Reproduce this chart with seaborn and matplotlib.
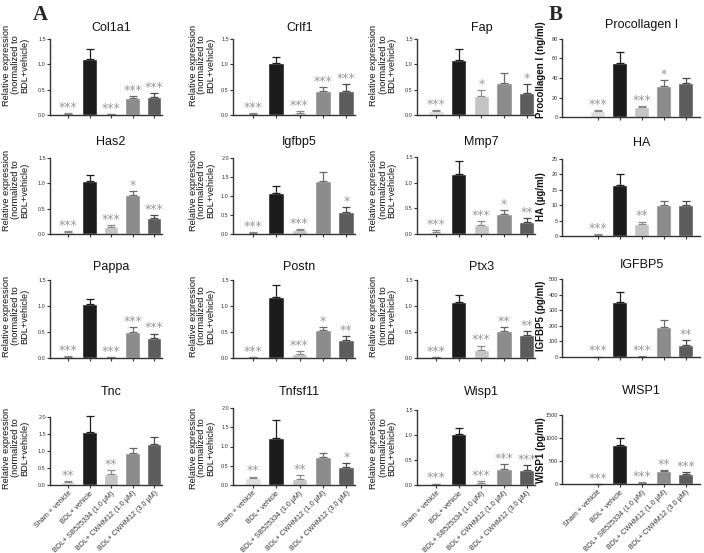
import pandas as pd
import seaborn as sns
import matplotlib.pyplot as plt
from matplotlib.transforms import blended_transform_factory

sns.set_style("ticks")
plt.rcParams["font.family"] = ["Liberation Sans", "DejaVu Sans"]

# -----------------------------
# Data
# -----------------------------

groups = ["Sham + vehicle", "BDL+ vehicle", "BDL+ SB525334 (1.0 \u00b5M)",
          "BDL+ CWHM12 (1.0 \u00b5M)", "BDL+ CWHM12 (3.0 \u00b5M)"]
bar_colors = ["#dedede", "#1c1c1c", "#c4c4c4", "#8c8c8c", "#5c5c5c"]
err_colors = ["#8a8a8a", "#1c1c1c", "#8a8a8a", "#6a6a6a", "#4a4a4a"]

col1a1_mean = [0.02, 1.11, 0.01, 0.34, 0.35]
col1a1_sem = [0.01, 0.19, 0.005, 0.03, 0.08]
col1a1_sig = ["***", "", "***", "***", "***"]

crlf1_mean = [0.02, 1.03, 0.04, 0.48, 0.48]
crlf1_sem = [0.01, 0.11, 0.04, 0.07, 0.14]
crlf1_sig = ["***", "", "***", "***", "***"]

fap_mean = [0.07, 1.09, 0.38, 0.64, 0.44]
fap_sem = [0.02, 0.22, 0.12, 0.18, 0.18]
fap_sig = ["***", "", "*", "", "*"]

has2_mean = [0.03, 1.04, 0.14, 0.77, 0.32]
has2_sem = [0.02, 0.12, 0.04, 0.07, 0.05]
has2_sig = ["***", "", "***", "*", "***"]

igfbp5_mean = [0.02, 1.09, 0.10, 1.40, 0.59]
igfbp5_sem = [0.03, 0.18, 0.04, 0.22, 0.12]
igfbp5_sig = ["***", "", "***", "", "*"]

mmp7_mean = [0.03, 1.16, 0.17, 0.39, 0.23]
mmp7_sem = [0.04, 0.26, 0.09, 0.07, 0.08]
mmp7_sig = ["***", "", "***", "*", "**"]

pappa_mean = [0.02, 1.03, 0.01, 0.50, 0.39]
pappa_sem = [0.01, 0.11, 0.005, 0.10, 0.08]
pappa_sig = ["***", "", "***", "***", "***"]

postn_mean = [0.01, 1.17, 0.07, 0.54, 0.34]
postn_sem = [0.005, 0.24, 0.07, 0.06, 0.08]
postn_sig = ["***", "", "***", "*", "**"]

ptx3_mean = [0.01, 1.07, 0.16, 0.52, 0.44]
ptx3_sem = [0.005, 0.15, 0.08, 0.08, 0.08]
ptx3_sig = ["***", "", "***", "**", "**"]

tnc_mean = [0.09, 1.55, 0.31, 0.95, 1.20]
tnc_sem = [0.02, 0.48, 0.14, 0.14, 0.20]
tnc_sig = ["**", "", "**", "", ""]

tnfsf11_mean = [0.17, 1.22, 0.16, 0.72, 0.48]
tnfsf11_sem = [0.05, 0.46, 0.09, 0.12, 0.10]
tnfsf11_sig = ["**", "", "**", "", "*"]

wisp1_mean = [0.02, 1.03, 0.04, 0.33, 0.30]
wisp1_sem = [0.01, 0.11, 0.04, 0.09, 0.10]
wisp1_sig = ["***", "", "***", "***", "***"]

procol_mean = [6.5, 55.0, 10.5, 32.0, 34.5]
procol_sem = [0.5, 12.0, 1.0, 6.0, 5.5]
procol_sig = ["***", "", "***", "*", ""]

ha_mean = [0.3, 16.5, 4.0, 10.0, 10.0]
ha_sem = [0.2, 3.7, 0.7, 1.5, 1.5]
ha_sig = ["***", "", "**", "", ""]

igfbp5_prot_mean = [2, 350, 3, 195, 80]
igfbp5_prot_sem = [1, 65, 1, 45, 30]
igfbp5_prot_sig = ["***", "", "***", "", "**"]

wisp1_prot_mean = [5, 840, 25, 280, 225]
wisp1_prot_sem = [3, 170, 12, 30, 35]
wisp1_prot_sig = ["***", "", "***", "**", "***"]

rel_label = "Relative expression\n(normalized to\nBDL+vehicle)"

# -----------------------------
# Layout (pixels)
# -----------------------------

W, H = 704, 553
col_x = [(50, 162), (233, 355), (417, 535), (562, 700)]
xlim_a = (-0.84, 4.37)
xlim_b = (-1.62, 4.65)
ylabel_x = [16, 202, 383, 541]

fig = plt.figure(figsize=(W / 100, H / 100), dpi=100)


def panel(col, top, bottom, title, title_y, mean, sem, sig, ylabel, label_y,
          ymax, yticks, fmt, bottom_row=False):
    x0, x1 = col_x[col]
    ax = fig.add_axes([x0 / W, 1 - bottom / H, (x1 - x0) / W, (bottom - top) / H])
    df = pd.DataFrame({"group": groups, "value": mean})
    sns.barplot(data=df, x="group", y="value", hue="group", order=groups,
                hue_order=groups, palette=bar_colors, saturation=1,
                width=0.68, legend=False, ax=ax)
    for i in range(5):
        ax.errorbar(i, mean[i], yerr=[[0], [sem[i]]], color=err_colors[i],
                    capsize=3, elinewidth=0.9, capthick=0.9, clip_on=False)
        if sig[i]:
            ax.annotate(sig[i], xy=(i, mean[i] + sem[i]), xytext=(0, 1.5),
                        textcoords="offset points", ha="center", va="baseline",
                        fontsize=9, color="#999999", family="DejaVu Sans",
                        annotation_clip=False)
    ax.set_xlim(*(xlim_b if col == 3 else xlim_a))
    ax.set_ylim(0, ymax)
    ax.set_yticks(yticks)
    ax.set_yticklabels([fmt.format(t) for t in yticks])
    ax.set_xlabel("")
    ax.set_ylabel("")
    ax.set_xticks(range(5))
    if bottom_row:
        ax.set_xticklabels(groups, rotation=45, ha="right",
                           rotation_mode="anchor", fontsize=5.2, color="#333333")
    else:
        ax.set_xticklabels([])
    ax.tick_params(axis="y", length=2, width=0.8, labelsize=4, pad=1,
                   colors="#333333")
    ax.tick_params(axis="x", length=2, width=0.8, pad=1.5, colors="#333333")
    sns.despine(ax=ax)
    for s in ["left", "bottom"]:
        ax.spines[s].set_linewidth(1.0)
        ax.spines[s].set_color("#333333")

    tr = blended_transform_factory(ax.transData, fig.transFigure)
    ax.text(2, 1 - title_y / H, title, transform=tr, ha="center", va="center",
            fontsize=9, color="#111111")
    if col == 3:
        fig.text(ylabel_x[col] / W, 1 - label_y / H, ylabel, rotation=90,
                 ha="center", va="center", fontsize=7.0, weight="bold",
                 color="#111111")
    else:
        fig.text(ylabel_x[col] / W, 1 - label_y / H, ylabel, rotation=90,
                 ha="center", va="center", multialignment="center",
                 linespacing=1.0, fontsize=6.7, color="#111111")
    return ax


t15 = [0, 0.5, 1.0, 1.5]
t20 = [0, 0.5, 1.0, 1.5, 2.0]
f1 = "{:.1f}"

# row 1
panel(0, 39, 115, "Col1a1", 28, col1a1_mean, col1a1_sem, col1a1_sig, rel_label, 65, 1.5, t15, f1)
panel(1, 39, 115, "Crlf1", 28, crlf1_mean, crlf1_sem, crlf1_sig, rel_label, 65, 1.5, t15, f1)
panel(2, 39, 115, "Fap", 28, fap_mean, fap_sem, fap_sig, rel_label, 65, 1.5, t15, f1)
panel(3, 39, 117, "Procollagen I", 25, procol_mean, procol_sem, procol_sig,
      "Procollagen I (ng/ml)", 70, 80, [0, 20, 40, 60, 80], "{:d}")

# row 2
panel(0, 158, 234, "Has2", 142, has2_mean, has2_sem, has2_sig, rel_label, 190, 1.5, t15, f1)
panel(1, 158, 234, "Igfbp5", 142, igfbp5_mean, igfbp5_sem, igfbp5_sig, rel_label, 190, 2.0, t20, f1)
panel(2, 157, 234, "Mmp7", 142, mmp7_mean, mmp7_sem, mmp7_sig, rel_label, 190, 1.5, t15, f1)
panel(3, 159, 236, "HA", 143, ha_mean, ha_sem, ha_sig,
      "HA (\u00b5g/ml)", 197, 25, [0, 5, 10, 15, 20, 25], "{:d}")

# row 3
panel(0, 280, 358, "Pappa", 267, pappa_mean, pappa_sem, pappa_sig, rel_label, 316, 1.5, t15, f1)
panel(1, 280, 358, "Postn", 267, postn_mean, postn_sem, postn_sig, rel_label, 316, 1.5, t15, f1)
panel(2, 280, 358, "Ptx3", 267, ptx3_mean, ptx3_sem, ptx3_sig, rel_label, 316, 1.5, t15, f1)
panel(3, 279, 357, "IGFBP5", 265, igfbp5_prot_mean, igfbp5_prot_sem, igfbp5_prot_sig,
      "IGFBP5 (pg/ml)", 316, 500, [0, 100, 200, 300, 400, 500], "{:d}")

# row 4
panel(0, 417, 485, "Tnc", 392, tnc_mean, tnc_sem, tnc_sig, rel_label, 448, 2.0, t20, f1, True)
panel(1, 408, 485, "Tnfsf11", 392, tnfsf11_mean, tnfsf11_sem, tnfsf11_sig, rel_label, 448, 2.0, t20, f1, True)
panel(2, 410, 485, "Wisp1", 392, wisp1_mean, wisp1_sem, wisp1_sig, rel_label, 448, 1.5, t15, f1, True)
panel(3, 415, 484, "WISP1", 391, wisp1_prot_mean, wisp1_prot_sem, wisp1_prot_sig,
      "WISP1 (pg/ml)", 450, 1500, [0, 500, 1000, 1500], "{:d}", True)

fig.text(33 / W, 1 - 15 / H, "A", fontsize=15, weight="bold",
         family="Liberation Serif", ha="left", va="center")
fig.text(549 / W, 1 - 15 / H, "B", fontsize=15, weight="bold",
         family="Liberation Serif", ha="left", va="center")

fig.savefig("out.png", dpi=100)
